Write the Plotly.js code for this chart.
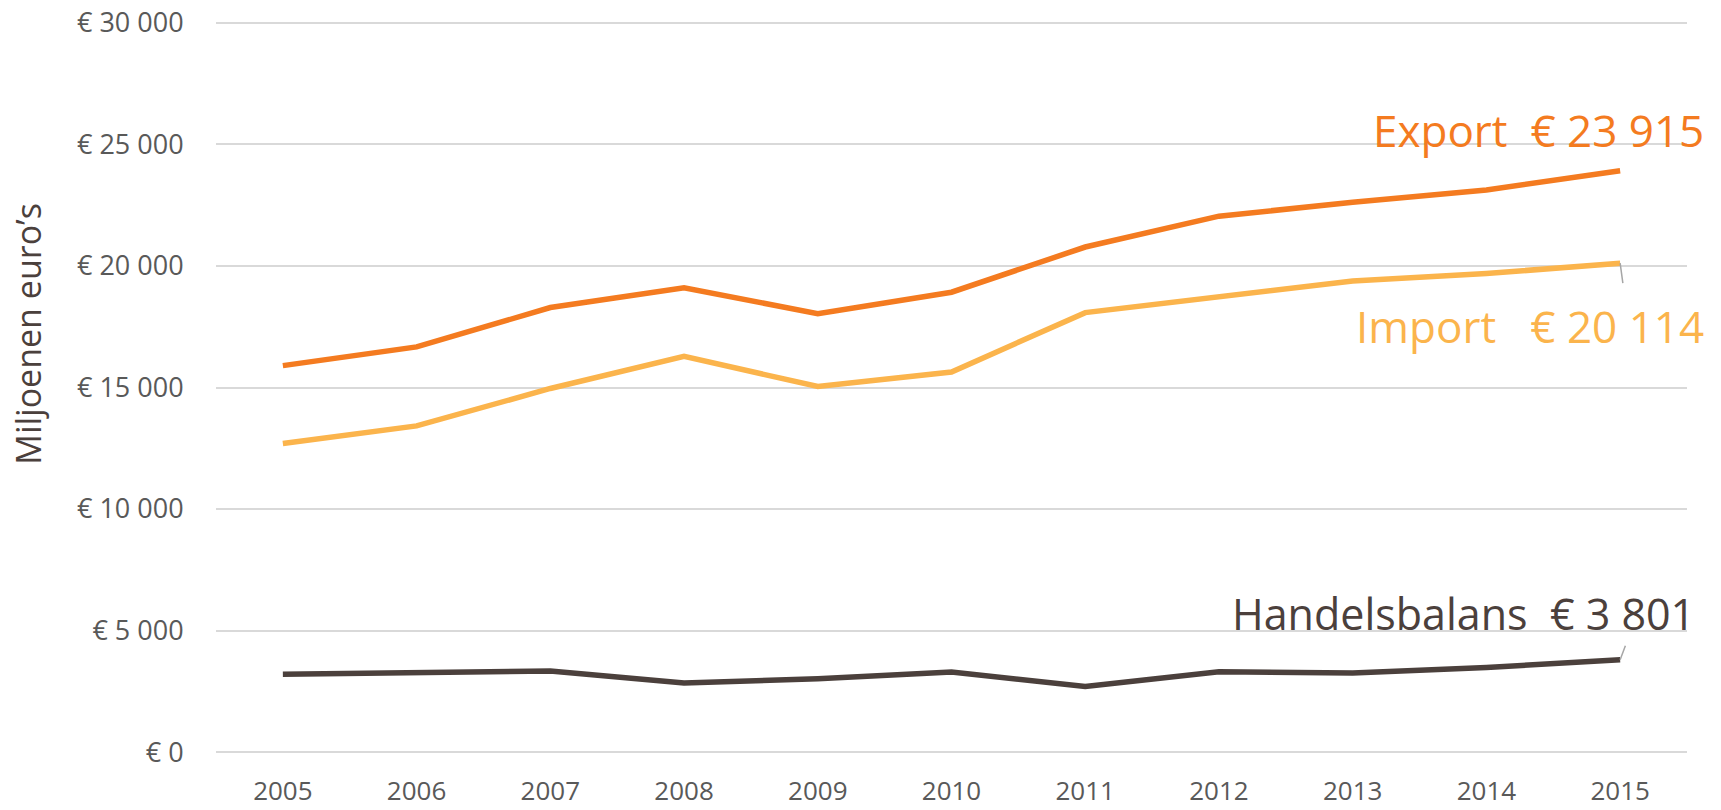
<!DOCTYPE html>
<html>
<head>
<meta charset="utf-8">
<script src="https://cdn.plot.ly/plotly-3.0.1.min.js"></script>
<style>
  html, body { margin: 0; padding: 0; background: #ffffff; }
  #chart { width: 1721px; height: 810px; }
</style>
</head>
<body>
<div id="chart"></div>
<script>
// ---- data ----
const years = ['2005','2006','2007','2008','2009','2010','2011','2012','2013','2014','2015'];
const exportValues = [15900, 16670, 18290, 19100, 18040, 18920, 20780, 22050, 22620, 23130, 23915];
const importValues = [12700, 13420, 14960, 16280, 15040, 15640, 18080, 18750, 19380, 19690, 20114];
const balanceValues = [3200, 3250, 3330, 2840, 3020, 3290, 2700, 3300, 3250, 3480, 3801];
const seriesNames = ['Export', 'Import', 'Handelsbalans'];
const seriesLabels = ['Export  € 23 915', 'Import  € 20 114', 'Handelsbalans  € 3 801'];
const yTickVals = [0, 5000, 10000, 15000, 20000, 25000, 30000];
const yTickText = ['€ 0', '€ 5 000', '€ 10 000', '€ 15 000', '€ 20 000', '€ 25 000', '€ 30 000'];
const yTitle = 'Miljoenen euro’s';

// ---- styles ----
const cExport = '#F47B20';
const cImport = '#FBB44C';
const cBalance = '#4B403C';
const fontFam = '"Open Sans", "Noto Sans", sans-serif';

const mk = (y, name, color) => ({
  x: years, y: y, name: name, type: 'scatter', mode: 'lines',
  line: { color: color, width: 5.5 }, hoverinfo: 'skip'
});

const traces = [
  mk(exportValues, seriesNames[0], cExport),
  mk(importValues, seriesNames[1], cImport),
  mk(balanceValues, seriesNames[2], cBalance)
];

const last = years.length - 1;
const annotations = [
  { x: last, y: exportValues[last], xref: 'x', yref: 'y', text: seriesLabels[0],
    showarrow: false, xanchor: 'right', yanchor: 'middle', xshift: 86, yshift: 41,
    font: { family: fontFam, size: 44, color: cExport } },
  { x: last, y: importValues[last], xref: 'x', yref: 'y', text: seriesLabels[1].replace('  ', '\u00a0\u00a0 '),
    showarrow: false, xanchor: 'right', yanchor: 'middle', xshift: 86, yshift: -63,
    font: { family: fontFam, size: 44, color: cImport } },
  { x: last, y: balanceValues[last], xref: 'x', yref: 'y', text: seriesLabels[2],
    showarrow: false, xanchor: 'right', yanchor: 'middle', xshift: 77, yshift: 46,
    font: { family: fontFam, size: 43, color: cBalance } },
  // leader lines
  { x: last, y: importValues[last], xref: 'x', yref: 'y', text: ' ', showarrow: true,
    arrowhead: 0, arrowwidth: 1.5, arrowcolor: '#A6A6A6', ax: 3, ay: 22, standoff: 0,
    font: { size: 1 } },
  { x: last, y: balanceValues[last], xref: 'x', yref: 'y', text: ' ', showarrow: true,
    arrowhead: 0, arrowwidth: 1.5, arrowcolor: '#A6A6A6', ax: 6, ay: -16, standoff: 0,
    font: { size: 1 } },
  // y-axis title
  { xref: 'paper', yref: 'paper', x: -0.128, y: 0.573, text: yTitle, textangle: -90,
    showarrow: false, xanchor: 'center', yanchor: 'middle',
    font: { family: fontFam, size: 34, color: '#4B403C' } }
];

const layout = {
  width: 1721, height: 810,
  margin: { l: 216, r: 34, t: 21, b: 56, pad: 0 },
  paper_bgcolor: '#ffffff', plot_bgcolor: '#ffffff',
  showlegend: false,
  font: { family: fontFam, color: '#595959' },
  xaxis: {
    type: 'category', range: [-0.5, 10.5], showgrid: false, zeroline: false,
    showline: false, ticks: 'outside', ticklen: 14, tickcolor: 'rgba(0,0,0,0)',
    tickfont: { family: fontFam, size: 26, color: '#595959' }, fixedrange: true
  },
  yaxis: {
    range: [-80, 30080], tickvals: yTickVals, ticktext: yTickText,
    showgrid: true, gridcolor: '#D9D9D9', gridwidth: 2, zeroline: false,
    showline: false, ticks: 'outside', ticklen: 26, tickcolor: 'rgba(0,0,0,0)',
    tickfont: { family: fontFam, size: 27, color: '#595959' },
    automargin: false, fixedrange: true
  },
  annotations: annotations
};

Plotly.newPlot('chart', traces, layout, { displayModeBar: false, staticPlot: true });
</script>
</body>
</html>
